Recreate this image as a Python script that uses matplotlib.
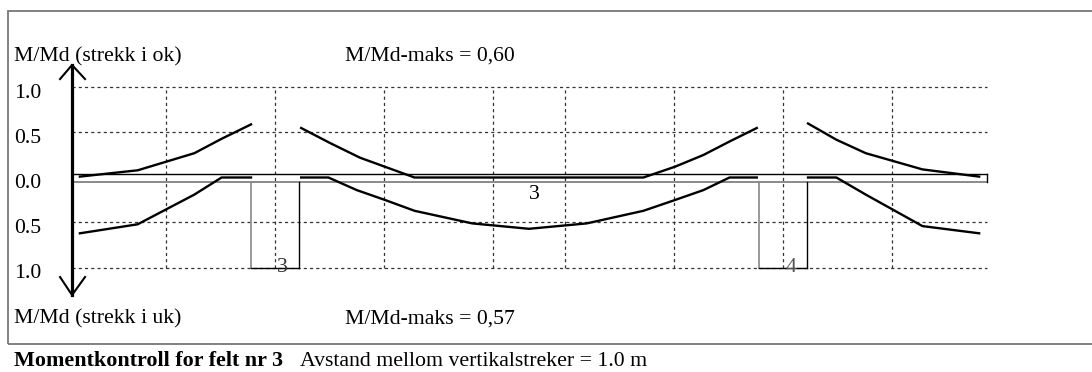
import matplotlib.pyplot as plt
from matplotlib.patches import Rectangle

# span geometry (m): support centres, support width, beam ends
supports = [0.0, 4.66]
support_labels = ["3", "4"]
support_half = 0.22
beam_start = -1.862
beam_end = 6.532

# vertical grid positions (m), 1.0 m from each support
vgrid = [-1.0, 0.0, 1.0, 2.0, 2.66, 3.66, 4.66, 5.66]
hgrid = [0.5, 1.0]
ytick_vals = [1.0, 0.5, 0.0, 0.5, 1.0]
ytick_pos = [1.0, 0.5, 0.0, -0.5, -1.0]

# M/Md (strekk i ok) - drawn upwards
ok_left_x = [-1.79, -1.26, -0.74, -0.49, -0.22]
ok_left_v = [0.01, 0.08, 0.27, 0.43, 0.59]
ok_mid_x = [0.24, 0.51, 0.78, 1.28, 3.38, 3.67, 3.93, 4.17, 4.42]
ok_mid_v = [0.55, 0.38, 0.22, 0.0, 0.0, 0.12, 0.25, 0.40, 0.55]
ok_right_x = [4.89, 5.15, 5.42, 5.94, 6.46]
ok_right_v = [0.60, 0.42, 0.27, 0.09, 0.01]

# M/Md (strekk i uk) - drawn downwards
uk_left_x = [-1.79, -1.26, -0.74, -0.49, -0.22]
uk_left_v = [0.62, 0.52, 0.19, 0.0, 0.0]
uk_mid_x = [0.24, 0.49, 0.75, 1.01, 1.28, 1.81, 2.33, 2.86, 3.38, 3.67, 3.93, 4.17, 4.42]
uk_mid_v = [0.0, 0.0, 0.14, 0.25, 0.37, 0.51, 0.57, 0.51, 0.37, 0.25, 0.14, 0.0, 0.0]
uk_right_x = [4.89, 5.15, 5.42, 5.94, 6.46]
uk_right_v = [0.0, 0.0, 0.19, 0.54, 0.62]

W, H = 1092, 372
fig = plt.figure(figsize=(W / 100, H / 100), dpi=100)
ax = fig.add_axes([0, 0, 1, 1])
ax.set_xlim(-275 / 109, (W - 275) / 109)
ax.set_ylim((177.5 - H) / 90, 177.5 / 90)
ax.axis("off")

serif = "Liberation Serif"
fs = 15.7


def ftext(px, py, s, size=fs, **kw):
    fig.text(px / W, 1 - py / H, s, family=serif, fontsize=size, va="center", **kw)


# outer frame
fig.patches.append(Rectangle((8 / W, 1 - 344 / H), 1.2, (344 - 11) / H,
                             transform=fig.transFigure, fill=False,
                             edgecolor="#777777", lw=1.3))

dash = (0, (2.5, 2.5))
for g in hgrid:
    for s in (1, -1):
        ax.plot([beam_start, beam_end], [s * g, s * g], color="#333333", lw=0.9, ls=dash)
for gx in vgrid:
    ax.plot([gx, gx], [-1.0, 1.0], color="#333333", lw=0.9, ls=dash)

# beam
ax.plot([beam_start, beam_end], [0.044, 0.044], color="black", lw=1.0)
ax.plot([beam_start, beam_end], [-0.05, -0.05], color="#777777", lw=1.2)
ax.plot([beam_end, beam_end], [0.044, -0.05], color="black", lw=1.0)

# supports
for sx, lab in zip(supports, support_labels):
    ax.plot([sx - support_half, sx - support_half], [-0.05, -1.0], color="#888888", lw=1.2)
    ax.plot([sx + support_half, sx + support_half], [-0.05, -1.0], color="black", lw=1.0)
    ax.plot([sx - support_half, sx + support_half], [-1.0, -1.0], color="black", lw=1.0)
    ax.text(sx + 0.07, -1.0, lab, family=serif, fontsize=fs,
            color="#333333" if lab == "3" else "#555555", ha="center", va="center")
ax.text(2.38, -0.19, "3", family=serif, fontsize=fs, ha="center", va="center")

# moment curves
for xs, vs in [(ok_left_x, ok_left_v), (ok_mid_x, ok_mid_v), (ok_right_x, ok_right_v)]:
    ax.plot(xs, vs, color="black", lw=1.7, solid_joinstyle="round")
for xs, vs in [(uk_left_x, uk_left_v), (uk_mid_x, uk_mid_v), (uk_right_x, uk_right_v)]:
    ax.plot(xs, [-v for v in vs], color="black", lw=1.7, solid_joinstyle="round")

# double arrow
ax.plot([beam_start, beam_start], [1.25, -1.306], color="black", lw=2.3)
ax.plot([-1.972, beam_start, -1.743], [1.094, 1.25, 1.094], color="black", lw=1.5)
ax.plot([-1.972, beam_start, -1.743], [-1.106, -1.306, -1.106], color="black", lw=1.5)

for lab, p in zip(ytick_vals, ytick_pos):
    ax.text(-2.395, p - 0.07, "%.1f" % lab, family=serif, fontsize=fs, ha="left", va="center")

ftext(14, 57, "M/Md (strekk i ok)")
ftext(345, 56, "M/Md-maks = 0,60")
ftext(14, 319, "M/Md (strekk i uk)")
ftext(345, 319, "M/Md-maks = 0,57")
ftext(14, 361, "Momentkontroll for felt nr 3", size=15.9, fontweight="bold")
ftext(300, 361, "Avstand mellom vertikalstreker = 1.0 m")

fig.savefig("out.png", dpi=100)
